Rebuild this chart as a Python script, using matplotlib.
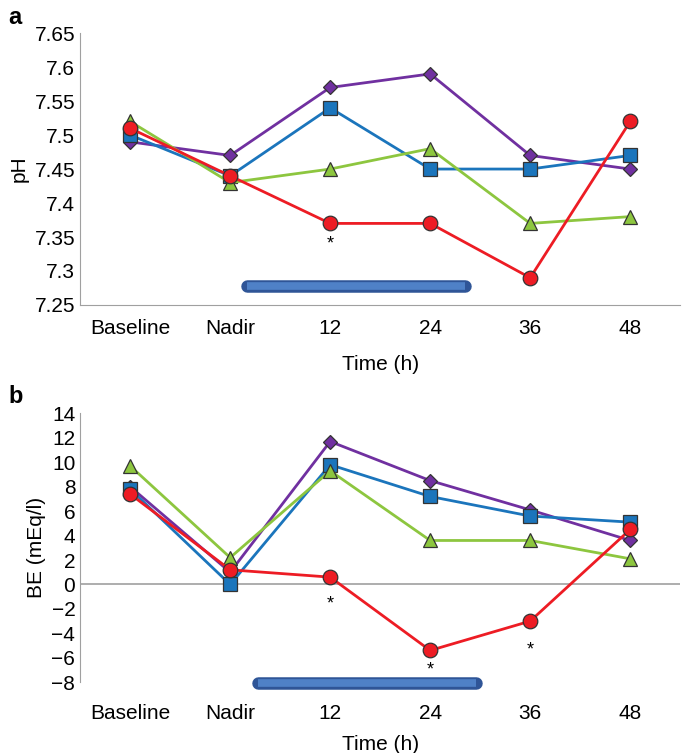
import matplotlib.pyplot as plt

plt.rcParams['font.family'] = ['Liberation Sans', 'DejaVu Sans']

times = ['Baseline', 'Nadir', '12', '24', '36', '48']

# panel a: pH
ph_purple = [7.49, 7.47, 7.57, 7.59, 7.47, 7.45]
ph_blue = [7.50, 7.44, 7.54, 7.45, 7.45, 7.47]
ph_green = [7.52, 7.43, 7.45, 7.48, 7.37, 7.38]
ph_red = [7.51, 7.44, 7.37, 7.37, 7.29, 7.52]
ph_star_idx = [2]
ph_star_val = [7.34]

# panel b: base excess
be_purple = [8.0, 1.0, 11.7, 8.5, 6.1, 3.6]
be_blue = [7.8, 0.0, 9.8, 7.2, 5.6, 5.1]
be_green = [9.7, 2.2, 9.3, 3.6, 3.6, 2.1]
be_red = [7.4, 1.2, 0.6, -5.4, -3.0, 4.5]
be_star_idx = [2, 3, 4]
be_star_val = [-1.6, -7.0, -5.4]

series_style = [
    ('#7030A0', 'D', 7.5),
    ('#1B75BC', 's', 9.5),
    ('#8DC63F', '^', 10),
    ('#ED1C24', 'o', 10.5),
]

fig = plt.figure(figsize=(6.85, 7.53), dpi=100)
ax_a = fig.add_axes([0.117, 0.595, 0.876, 0.361])
ax_b = fig.add_axes([0.117, 0.094, 0.876, 0.357])

x = list(range(len(times)))


def draw(ax, data, stars_x, stars_y):
    for vals, (col, mk, ms) in zip(data, series_style):
        ax.plot(x, vals, color=col, lw=2, marker=mk, ms=ms,
                markerfacecolor=col, markeredgecolor='#333333', markeredgewidth=0.9)
    for sx, sy in zip(stars_x, stars_y):
        ax.text(sx, sy, '*', ha='center', va='center', fontsize=13)
    ax.set_xlim(-0.5, len(times) - 0.5)
    ax.set_xticks(x)
    ax.set_xticklabels(times)
    ax.tick_params(length=0, labelsize=15)
    for s in ['top', 'right']:
        ax.spines[s].set_visible(False)
    ax.spines['left'].set_color('#a0a0a0')
    ax.spines['bottom'].set_color('#a0a0a0')


def treatment_bar(ax, x0, x1, y):
    ax.plot([x0, x1], [y, y], color='#2F5597', lw=9, solid_capstyle='round', clip_on=False)
    ax.plot([x0, x1], [y, y], color='#4F81C7', lw=5.5, solid_capstyle='butt', clip_on=False)


draw(ax_a, [ph_purple, ph_blue, ph_green, ph_red], ph_star_idx, ph_star_val)
ax_a.set_ylim(7.25, 7.65)
ax_a.set_yticks([7.25, 7.3, 7.35, 7.4, 7.45, 7.5, 7.55, 7.6, 7.65])
ax_a.set_yticklabels(['7.25', '7.3', '7.35', '7.4', '7.45', '7.5', '7.55', '7.6', '7.65'])
ax_a.tick_params(axis='x', pad=10)
ax_a.set_xlabel('Time (h)', fontsize=15, labelpad=12)
ax_a.set_ylabel('pH', fontsize=15, labelpad=4)
treatment_bar(ax_a, 1.17, 3.35, 7.278)
fig.text(0.012, 0.968, 'a', fontsize=17, fontweight='bold')

draw(ax_b, [be_purple, be_blue, be_green, be_red], be_star_idx, be_star_val)
ax_b.set_ylim(-8, 14)
ax_b.set_yticks(range(-8, 15, 2))
ax_b.set_yticklabels([str(v).replace('-', '\u2212') for v in range(-8, 15, 2)])
ax_b.spines['bottom'].set_visible(False)
ax_b.axhline(0, color='#a0a0a0', lw=1.2, zorder=0)
ax_b.tick_params(axis='x', pad=16)
ax_b.set_xlabel('Time (h)', fontsize=15, labelpad=8)
ax_b.set_ylabel('BE (mEq/l)', fontsize=15, labelpad=4)
treatment_bar(ax_b, 1.28, 3.46, -8.1)
fig.text(0.012, 0.465, 'b', fontsize=17, fontweight='bold')

fig.savefig('out.png', dpi=100)
